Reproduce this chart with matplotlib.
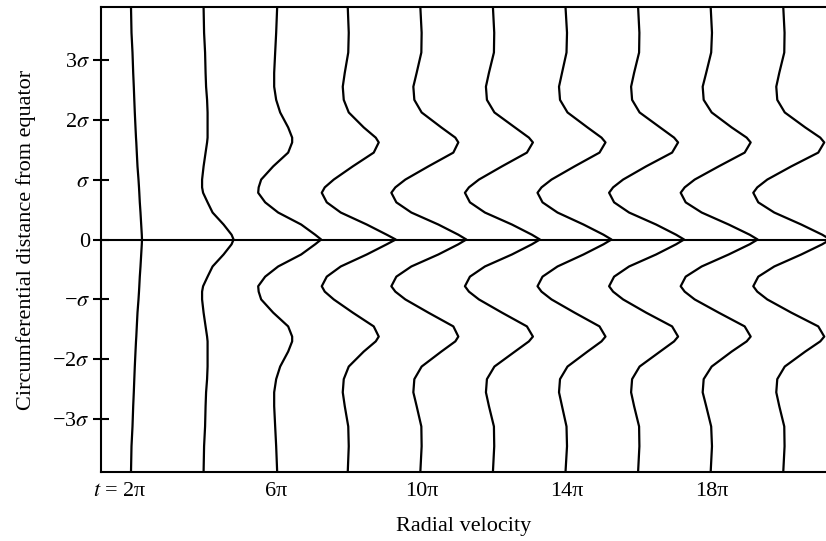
import matplotlib
matplotlib.use("Agg")
import matplotlib.pyplot as plt
import matplotlib.transforms as mtransforms
import numpy as np

plt.rcParams['font.family'] = ['Liberation Serif', 'DejaVu Serif']
plt.rcParams['mathtext.fontset'] = 'stix'

# times of each profile (multiples of pi)
times = [2, 4, 6, 8, 10, 12, 14, 16, 18, 20]

# circumferential distance (in sigma), upper half; profiles are symmetric about equator
y_up = [3.88, 3.45, 3.12, 2.78, 2.55, 2.33, 2.12, 1.87, 1.70, 1.62,
        1.45, 1.22, 1.00, 0.87, 0.78, 0.62, 0.45, 0.25, 0.08, 0.00]

# radial velocity (arbitrary units)
v_2pi  = [0, 0.5, 1.5, 2.2, 2.8, 3.3, 3.8, 4.5, 5, 5.3, 5.8, 6.5, 7.5, 8, 8.3, 8.8, 9.5, 10.2, 10.8, 11]
v_4pi  = [0, 0.5, 1.5, 2, 2.5, 3.5, 4, 4, 4, 3.5, 2, 0, -1.5, -1.5, -0.5, 4, 9, 20, 28, 30]
v_6pi  = [1, 0, -1, -2, -2, 0, 4, 12, 16, 16, 12, -3, -15, -17.5, -18, -11, 2, 25, 39, 45]
v_8pi  = [-1, 0, -0.5, -4, -6, -5, 0, 15, 27, 30, 25, 4, -15, -24, -27, -22, -8, 18, 38, 47]
v_10pi = [-1, 0.3, 0, -4.7, -8, -7, 0.3, 20, 34, 37, 32, 7, -16, -26, -30, -25, -10, 17, 37, 45]
v_12pi = [-1, 0.3, 0, -5, -8, -7, 0.5, 21, 35, 39, 33, 8, -15, -25, -29, -24, -9, 18, 38, 46]
v_14pi = [-1, 0.5, 0, -4.5, -7.5, -6.5, 1, 21, 35, 39, 33, 8, -15, -25, -29, -24, -9, 17, 37, 45]
v_16pi = [-1, 0.3, 0, -5, -8, -7, 0.5, 21, 35, 39, 33, 7, -16, -26, -30, -25, -10, 17, 37, 45]
v_18pi = [-1, 0.3, -0.5, -5.5, -9, -8, 0, 20, 35, 39, 33, 7, -17, -27, -31, -26, -10, 17, 38, 46]
v_20pi = [-1, 0.3, 0, -5, -8, -7, 0.5, 21, 36, 40, 34, 7, -17, -27, -31, -26, -10, 17, 38, 46]
profiles = [v_2pi, v_4pi, v_6pi, v_8pi, v_10pi, v_12pi, v_14pi, v_16pi, v_18pi, v_20pi]

ytick_vals = [-3, -2, -1, 0, 1, 2, 3]
ytick_labels = ['\u22123$\\sigma$', '\u22122$\\sigma$', '\u2212$\\sigma$', '0',
                '$\\sigma$', '2$\\sigma$', '3$\\sigma$']
xtick_vals = [2, 6, 10, 14, 18]
xtick_labels = ['$t$ = 2\u03c0', '6\u03c0', '10\u03c0', '14\u03c0', '18\u03c0']

vel_scale = 2 / 72.6  # x units per velocity unit

fig = plt.figure(figsize=(8.26, 5.41), dpi=100)
ax = fig.add_axes([0.1223, 0.1275, 0.8777, 0.8596])

y_up_arr = np.array(y_up)
y_full = np.concatenate([y_up_arr, -y_up_arr[::-1][1:]])
for t, v in zip(times, profiles):
    v = np.array(v, dtype=float)
    v_full = np.concatenate([v, v[::-1][1:]])
    ax.plot(t + vel_scale * v_full, y_full, color='black', lw=1.6,
            solid_joinstyle='round')

ax.axhline(0, color='black', lw=1.5)

ax.set_xlim(1.174, 21.15)
ax.set_ylim(-3.88, 3.88)

for s in ['left', 'top', 'bottom']:
    ax.spines[s].set_linewidth(1.5)
ax.spines['right'].set_visible(False)

ax.set_yticks(ytick_vals)
ax.set_yticklabels(ytick_labels, fontsize=16)
ax.tick_params(axis='y', direction='inout', length=12, width=1.5, pad=2)
ax.set_xticks(xtick_vals)
ax.set_xticklabels(xtick_labels, fontsize=16)
ax.tick_params(axis='x', length=0, pad=7)

# "t = 2π": keep the 2π roughly over its profile, "t =" hanging to the left
first = ax.get_xticklabels()[0]
first.set_horizontalalignment('right')
first.set_transform(first.get_transform() +
                    mtransforms.ScaledTranslation(0.16, 0, fig.dpi_scale_trans))

ax.set_xlabel('Radial velocity', fontsize=16, labelpad=12)
ax.set_ylabel('Circumferential distance from equator', fontsize=16, labelpad=12)

fig.savefig('out.png', dpi=100)
